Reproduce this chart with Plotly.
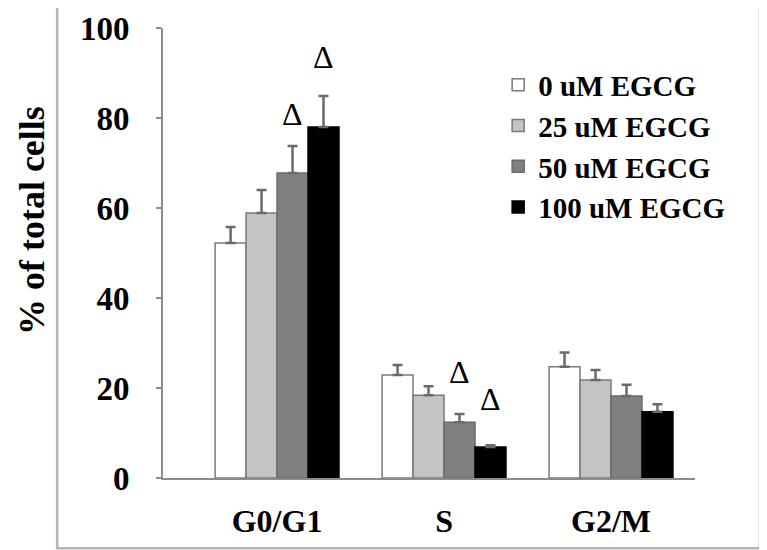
import plotly.graph_objects as go

categories = ['G0/G1', 'S', 'G2/M']
series_names = ['0 uM EGCG', '25 uM EGCG', '50 uM EGCG', '100 uM EGCG']
values = [
    [52.2, 22.9, 24.7],
    [58.9, 18.4, 21.8],
    [67.8, 12.4, 18.2],
    [78.0, 6.9, 14.7],
]
errors = [
    [3.6, 2.2, 3.2],
    [5.1, 2.0, 2.2],
    [6.0, 1.8, 2.5],
    [6.9, 0.4, 1.7],
]
y_ticks = [0, 20, 40, 60, 80, 100]
# significance marks: (category index, series index, height)
deltas = [(0, 2, 81.0), (0, 3, 93.5), (1, 2, 23.5), (1, 3, 17.6)]

fills = ['#ffffff', '#c4c4c4', '#808080', '#000000']
edges = ['#7a7a7a', '#7a7a7a', '#6a6a6a', '#000000']
serif = 'Liberation Serif'

bargap = 0.258
bar_w = (1 - bargap) / len(series_names)

fig = go.Figure()
xpos = list(range(len(categories)))
for i, name in enumerate(series_names):
    fig.add_trace(go.Bar(
        x=xpos, y=values[i], name=name,
        marker=dict(color=fills[i], line=dict(color=edges[i], width=1.5)),
        error_y=dict(type='data', array=errors[i], arrayminus=[0] * len(categories),
                     symmetric=False, color='#6a6a6a', thickness=2.5, width=5),
    ))

for ci, si, h in deltas:
    off = (si - (len(series_names) - 1) / 2) * bar_w
    fig.add_annotation(x=xpos[ci] + off, y=h, text='\u0394', showarrow=False,
                       font=dict(family=serif, size=32, color='black', weight='normal'))

fig.add_annotation(x=-0.2462, y=0.571, xref='paper', yref='paper', text='% of total cells',
                   textangle=-90, showarrow=False, xanchor='center', yanchor='middle',
                   font=dict(family=serif, size=36, color='black', weight='bold'))

# outer frame
fig.add_shape(type='rect', xref='paper', yref='paper', x0=-0.199, x1=1.122, y0=-0.156, y1=1.051,
              line=dict(color='#b5b5b5', width=2.5))

# page body adds an 8px offset, so margins are trimmed by 8px
fig.update_layout(
    width=767, height=550,
    margin=dict(l=155, r=80, t=20, b=80),
    paper_bgcolor='white', plot_bgcolor='white',
    barmode='group', bargap=bargap, bargroupgap=0,
    font=dict(family=serif, color='black', weight='bold'),
    legend=dict(x=0.63, y=0.93, xanchor='left', yanchor='top', bgcolor='rgba(0,0,0,0)',
                font=dict(family=serif, size=29, weight='bold')),
    xaxis=dict(range=[-0.683, 2.503], tickvals=xpos, ticktext=categories,
               showline=True, linecolor='#8c8c8c', linewidth=2, ticks='',
               showgrid=False, zeroline=False, ticklabelstandoff=14,
               tickfont=dict(size=32), automargin=False),
    yaxis=dict(range=[0, 100], tickvals=y_ticks, showline=True, linecolor='#8c8c8c',
               linewidth=2, ticks='outside', ticklen=5, tickcolor='#8c8c8c', tickwidth=2,
               showgrid=False, zeroline=False, ticklabelstandoff=20,
               tickfont=dict(size=33), automargin=False),
)

fig.write_html('out.html')
